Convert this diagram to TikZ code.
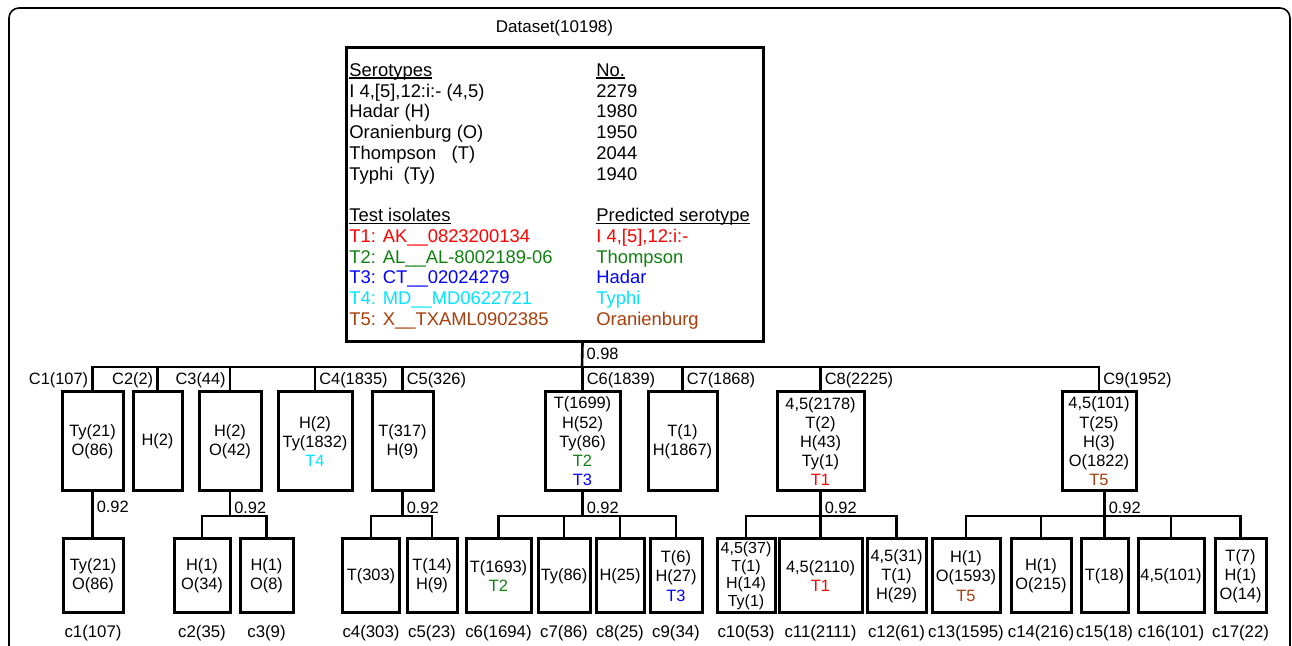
\documentclass[tikz,border=0pt]{standalone}
\usepackage{fontspec}
\setmainfont{Liberation Sans}
\usetikzlibrary{positioning}
\definecolor{isored}{RGB}{255,0,0}
\definecolor{isogreen}{RGB}{16,128,16}
\definecolor{isoblue}{RGB}{0,0,255}
\definecolor{isocyan}{RGB}{0,228,255}
\definecolor{isobrown}{RGB}{168,62,12}
\newcommand\headline[1]{\setbox0\hbox{#1}\rlap{\rule[-1.1pt]{\wd0}{0.7pt}}\box0}
\tikzset{
  clubox/.style={draw, line width=1.5pt, inner sep=0pt, align=center, font=\fontsize{8.2}{9.6}\selectfont},
  clutight/.style={clubox, font=\fontsize{8}{8.8}\selectfont},
  link/.style={line width=1.3pt, line cap=rect},
  cutlbl/.style={inner sep=1.5pt, font=\fontsize{8.2}{9.6}\selectfont},
  cname/.style={inner sep=0pt, font=\fontsize{8.4}{10}\selectfont},
  toptxt/.style={inner sep=0pt, anchor=base west, font=\fontsize{9.2}{11}\selectfont},
}

\begin{document}
\begin{tikzpicture}[x=0.5pt, y=-0.5pt]
        \useasboundingbox (0,0) rectangle (1292,646);
        % Frame
        \draw[line width=0.8pt, rounded corners=5pt] (9,646) -- (9,8) -- (1290,8) -- (1290,646);
        % Dataset box
        \node[draw, line width=1.5pt, minimum width=208.5pt, minimum height=147pt] (top) at (554.5,195) {};
        \node[above=5pt of top, inner sep=0pt, font=\fontsize{8.5}{10}\selectfont] (title) {Dataset(10198)};
        \foreach \y/\c/\a/\b [count=\i] in {
            76.5/black/\headline{Serotypes}/\headline{No.},
            97.3/black/{I 4,[5],12:i:- (4,5)}/2279,
            118/black/Hadar (H)/1980,
            139/black/Oranienburg (O)/1950,
            160/black/Thompson\ \ \ (T)/2044,
            180.7/black/Typhi\ \ (Ty)/1940,
            222/black/\headline{Test isolates}/\headline{Predicted serotype},
            242.7/isored/T1: AK\_\_0823200134/{I 4,[5],12:i:-},
            263.3/isogreen/T2: AL\_\_AL-8002189-06/Thompson,
            284/isoblue/T3: CT\_\_02024279/Hadar,
            305/isocyan/T4: MD\_\_MD0622721/Typhi,
            325.7/isobrown/T5: X\_\_TXAML0902385/Oranienburg} {
            \node[toptxt, text=\c] (ser\i) at (349,\y) {\a};
            \node[toptxt, text=\c] (num\i) at (596,\y) {\b};
        }
        % First level clusters
        \foreach \n/\x/\w/\txt in {
            C1/92.5/61/{Ty(21)\\O(86)},
            C2/157.5/49/{H(2)},
            C3/230/62/{H(2)\\O(42)},
            C4/315/74/{H(2)\\Ty(1832)\\\textcolor{isocyan}{T4}},
            C5/402.5/61/{T(317)\\H(9)},
            C6/582.5/75/{T(1699)\\H(52)\\Ty(86)\\\textcolor{isogreen}{T2}\\\textcolor{isoblue}{T3}},
            C7/682.5/69/{T(1)\\H(1867)},
            C8/820.5/87/{4,5(2178)\\T(2)\\H(43)\\Ty(1)\\\textcolor{isored}{T1}},
            C9/1099/74/{4,5(101)\\T(25)\\H(3)\\O(1822)\\\textcolor{isobrown}{T5}}} {
            \node[clubox, minimum width=\w*0.5pt, minimum height=49.5pt] (\n) at (\x,441.5) {\txt};
        }
        % Second level clusters
        \foreach \n/\x/\w/\s/\txt/\lbl in {
            c1/93/60/clubox/{Ty(21)\\O(86)}/c1(107),
            c2/202/56/clubox/{H(1)\\O(34)}/c2(35),
            c3/266.5/53/clubox/{H(1)\\O(8)}/c3(9),
            c4/371/57/clubox/{T(303)}/c4(303),
            c5/432/50/clubox/{T(14)\\H(9)}/c5(23),
            c6/498.5/65/clubox/{T(1693)\\\textcolor{isogreen}{T2}}/c6(1694),
            c7/564/52/clubox/{Ty(86)}/c7(86),
            c8/620/48/clubox/{H(25)}/c8(25),
            c9/676/52/clubox/{T(6)\\H(27)\\\textcolor{isoblue}{T3}}/c9(34),
            c10/746/58/clutight/{4,5(37)\\T(1)\\H(14)\\Ty(1)}/c10(53),
            c11/820.5/83/clubox/{4,5(2110)\\\textcolor{isored}{T1}}/c11(2111),
            c12/896.5/59/clubox/{4,5(31)\\T(1)\\H(29)}/c12(61),
            c13/966/68/clubox/{H(1)\\O(1593)\\\textcolor{isobrown}{T5}}/c13(1595),
            c14/1041/60/clubox/{H(1)\\O(215)}/c14(216),
            c15/1104.5/47/clubox/{T(18)}/c15(18),
            c16/1171/66/clubox/{4,5(101)}/c16(101),
            c17/1240.5/51/clubox/{T(7)\\H(1)\\O(14)}/c17(22)} {
            \node[\s, minimum width=\w*0.5pt, minimum height=37pt] (\n) at (\x,576) {\txt};
            \node[cname, below=5pt of \n] (\n-l) {\lbl};
        }
        % Cut at 0.98
        \coordinate (split) at (582,367);
        \draw[link] (top.south -| C6) -- (split) node[pos=0.44, right, cutlbl] {0.98};
        \draw[link] (C1.north |- split) -- (C9.north |- split);
        \foreach \n/\side/\lbl in {C1/left/C1(107), C2/left/C2(2), C3/left/C3(44), C4/right/C4(1835), C5/right/C5(326),
            C6/right/C6(1839), C7/right/C7(1868), C8/right/C8(2225), C9/right/C9(1952)} {
            \draw[link] (\n.north |- split) -- (\n.north) node[pos=0.56, \side, cutlbl] {\lbl};
        }
        % Cut at 0.92
        \coordinate (sub) at (0,516);
        \draw[link] (C1.south) -- (C1.south |- c1.north) node[pos=0.33, right, cutlbl] {0.92};
        \foreach \p/\t/\a/\b/\kids in {C3/C3/c2/c3/{c2,c3}, C5/C5/c4/c5/{c4,c5}, C6/C6/c6/c9/{c6,c7,c8,c9},
            C8/c11/c10/c12/{c10,c11,c12}, C9/c15/c13/c17/{c13,c14,c15,c16,c17}} {
            \draw[link] (\p.south -| \t) -- (\t |- sub) node[pos=0.64, right, cutlbl] {0.92};
            \draw[link] (\a |- sub) -- (\b |- sub);
            \foreach \k in \kids
                \draw[link] (\k |- sub) -- (\k.north);
        }
\end{tikzpicture}
\end{document}
